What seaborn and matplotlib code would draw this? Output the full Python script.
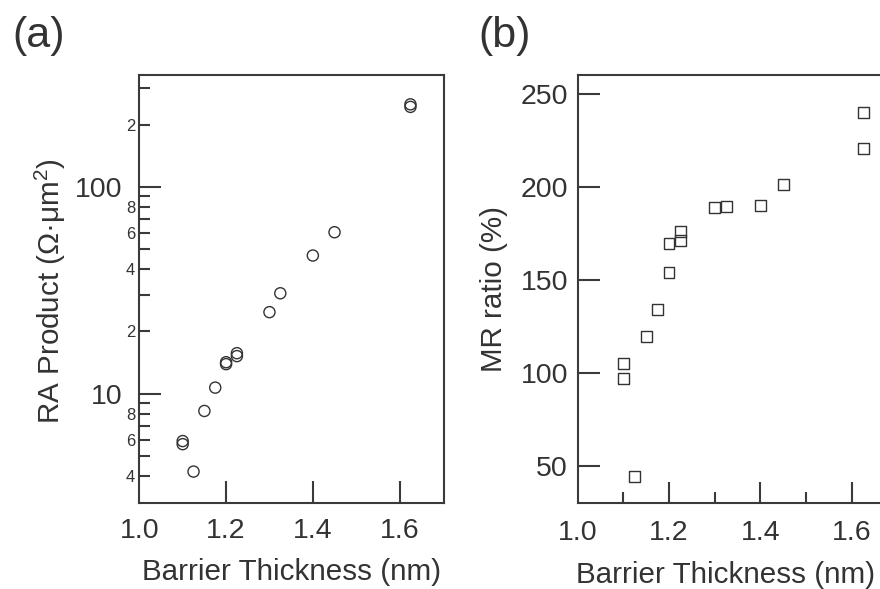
import matplotlib
matplotlib.use("Agg")
import matplotlib.pyplot as plt
import matplotlib.ticker as mticker
import seaborn as sns
import pandas as pd

# ---- data ----
ra_thickness = [1.10, 1.10, 1.125, 1.15, 1.175, 1.20, 1.20, 1.225, 1.225,
                1.30, 1.325, 1.40, 1.45, 1.625, 1.625]
ra_product = [5.9, 5.7, 4.2, 8.25, 10.7, 14.2, 13.9, 15.7, 15.2,
              24.8, 30.6, 46.6, 60.4, 251, 244]

mr_thickness = [1.10, 1.10, 1.125, 1.15, 1.175, 1.20, 1.20, 1.225, 1.225,
                1.30, 1.325, 1.40, 1.45, 1.625, 1.625]
mr_ratio = [105.2, 97.2, 44.6, 119.9, 134.4, 154.1, 169.7, 176.2, 171.5,
            189.4, 189.9, 190.3, 201.5, 240.3, 221.0]

x_ticks = [1.0, 1.2, 1.4, 1.6]
x_tick_labels = ["1.0", "1.2", "1.4", "1.6"]
ra_major_ticks = [10, 100]
ra_major_labels = ["10", "100"]
ra_minor_ticks = [4, 5, 6, 7, 8, 9, 20, 30, 40, 50, 60, 70, 80, 90, 200, 300]
ra_minor_labels = ["4", "", "6", "", "8", "", "2", "", "4", "", "6", "", "8", "", "2", ""]
mr_ticks = [50, 100, 150, 200, 250]

df_ra = pd.DataFrame({"t": ra_thickness, "ra": ra_product})
df_mr = pd.DataFrame({"t": mr_thickness, "mr": mr_ratio})

sns.set_style("ticks")
plt.rcParams["font.family"] = ["Liberation Sans", "DejaVu Sans"]
plt.rcParams["mathtext.fontset"] = "custom"
plt.rcParams["mathtext.rm"] = "Liberation Sans"
plt.rcParams["mathtext.it"] = "Liberation Sans:italic"

INK = "#333333"
SPINE = "#3a3a3a"
TICK_FS = 20.5
LABEL_FS = 21.3

fig = plt.figure(figsize=(8.8, 5.89), dpi=100)
ax1 = fig.add_axes([139.3 / 880, 1 - 503 / 589, 305 / 880, 428 / 589])
ax2 = fig.add_axes([577.7 / 880, 1 - 503 / 589, 319.6 / 880, 428 / 589])

# ---- panel (a) ----
sns.scatterplot(data=df_ra, x="t", y="ra", ax=ax1, marker="o", s=64,
                facecolor="none", edgecolor=INK, linewidth=1.0)
ax1.set_yscale("log")
ax1.set_xlim(1.0, 1.703)
ax1.set_ylim(2.96, 348)
ax1.set_xticks(x_ticks)
ax1.set_xticklabels(x_tick_labels)
ax1.xaxis.set_minor_locator(mticker.NullLocator())
ax1.yaxis.set_major_locator(mticker.FixedLocator(ra_major_ticks))
ax1.yaxis.set_major_formatter(mticker.FixedFormatter(ra_major_labels))
ax1.yaxis.set_minor_locator(mticker.FixedLocator(ra_minor_ticks))
ax1.yaxis.set_minor_formatter(mticker.FixedFormatter(ra_minor_labels))
ax1.tick_params(axis="x", which="major", direction="in", length=16, width=1.5,
                color=SPINE, labelsize=TICK_FS, labelcolor=INK, pad=10.5,
                bottom=True, top=False)
ax1.tick_params(axis="y", which="major", direction="in", length=16, width=1.5,
                color=SPINE, labelsize=TICK_FS, labelcolor=INK, pad=12,
                left=True, right=False)
ax1.tick_params(axis="y", which="minor", direction="in", length=8, width=1.5,
                color=SPINE, labelsize=12, labelcolor=INK, pad=3,
                left=True, right=False)
ax1.set_xlabel("Barrier Thickness (nm)", fontsize=LABEL_FS, color=INK)
ax1.set_ylabel(r"RA Product (Ω·μm$^{2}$)", fontsize=LABEL_FS, color=INK)
ax1.xaxis.set_label_coords(0.5, -0.128)
ax1.yaxis.set_label_coords(-0.235, 0.495)

# ---- panel (b) ----
sns.scatterplot(data=df_mr, x="t", y="mr", ax=ax2, marker="s", s=62,
                facecolor="none", edgecolor=INK, linewidth=1.0)
ax2.set_xlim(1.0, 1.7)
ax2.set_ylim(30.3, 260.4)
ax2.set_xticks(x_ticks)
ax2.set_xticklabels(x_tick_labels)
ax2.xaxis.set_minor_locator(mticker.FixedLocator([1.1, 1.3, 1.5]))
ax2.set_yticks(mr_ticks)
ax2.yaxis.set_minor_locator(mticker.NullLocator())
ax2.tick_params(axis="x", which="major", direction="in", length=15, width=1.5,
                color=SPINE, labelsize=TICK_FS, labelcolor=INK, pad=12,
                bottom=True, top=False)
ax2.tick_params(axis="x", which="minor", direction="in", length=8, width=1.5,
                color=SPINE, bottom=True, top=False)
ax2.tick_params(axis="y", which="major", direction="in", length=16, width=1.5,
                color=SPINE, labelsize=TICK_FS, labelcolor=INK, pad=7,
                left=True, right=False)
ax2.set_xlabel("Barrier Thickness (nm)", fontsize=LABEL_FS, color=INK)
ax2.set_ylabel("MR ratio (%)", fontsize=LABEL_FS, color=INK)
ax2.xaxis.set_label_coords(0.464, -0.135)
ax2.yaxis.set_label_coords(-0.218, 0.5)

for ax in (ax1, ax2):
    # the 1.0 tick mark coincides with the left spine; hide it
    ax.xaxis.get_major_ticks()[0].tick1line.set_visible(False)
    for sp in ax.spines.values():
        sp.set_visible(True)
        sp.set_color(SPINE)
        sp.set_linewidth(1.5)

fig.text(12 / 880, 1 - 47 / 589, "(a)", fontsize=31, color=INK, va="baseline", ha="left")
fig.text(478 / 880, 1 - 47 / 589, "(b)", fontsize=31, color=INK, va="baseline", ha="left")

fig.savefig("out.png", dpi=100)
